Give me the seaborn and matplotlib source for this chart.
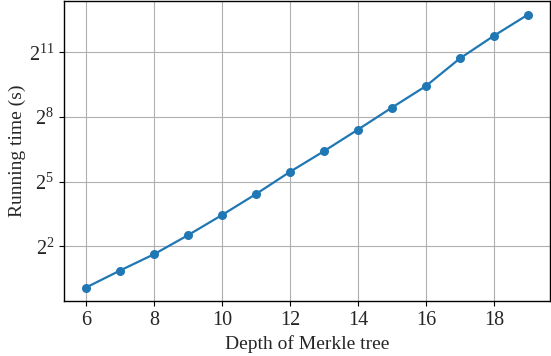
import matplotlib
matplotlib.use("Agg")
import matplotlib.pyplot as plt
import seaborn as sns
import pandas as pd
import numpy as np

depth = [6, 7, 8, 9, 10, 11, 12, 13, 14, 15, 16, 17, 18, 19]
running_time = [1.06, 1.83, 3.09, 5.7, 10.9, 21.4, 43.7, 84.9, 170, 345, 689, 1675, 3468, 6840]
ytick_exponents = [2, 5, 8, 11]
xticks = [6, 8, 10, 12, 14, 16, 18]

sns.set_style("ticks")
plt.rcParams['font.family'] = ['Liberation Serif', 'DejaVu Serif']
plt.rcParams['mathtext.fontset'] = 'custom'
plt.rcParams['mathtext.rm'] = 'Liberation Serif'
plt.rcParams['mathtext.it'] = 'Liberation Serif:italic'

df = pd.DataFrame({"depth": depth, "time": running_time})

fig = plt.figure(figsize=(5.51, 3.56), dpi=100)
ax = fig.add_axes([0.116, 0.154, 0.882, 0.843])
sns.lineplot(data=df, x="depth", y="time", marker="o", markersize=6.5,
             markeredgewidth=0, color="#1f77b4", linewidth=1.6, ax=ax)
ax.set_yscale("log", base=2)
ax.yaxis.set_minor_locator(matplotlib.ticker.NullLocator())
ax.set_yticks([2 ** e for e in ytick_exponents])
ax.set_yticklabels([r"$2^{%d}$" % e for e in ytick_exponents])
ax.set_xticks(xticks)
ax.grid(True, color="#b0b0b0", linewidth=0.8)
ax.set_axisbelow(True)
for s in ax.spines.values():
    s.set_color("black")
    s.set_linewidth(1.0)
ax.tick_params(axis="both", labelsize=14.5, color="black", length=3.5, width=0.8)
ax.set_xlabel("Depth of Merkle tree", fontsize=14)
ax.set_ylabel("Running time (s)", fontsize=14)
ax.yaxis.set_label_coords(-0.078, 0.5)

fig.savefig("out.png", dpi=100)
